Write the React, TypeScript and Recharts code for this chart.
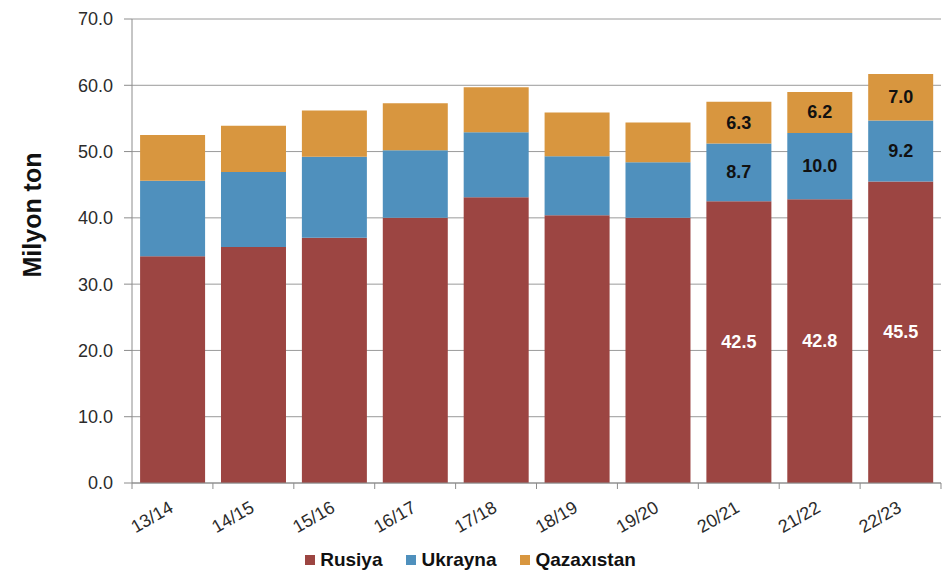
import React from "react";
import { BarChart, Bar, XAxis, YAxis, CartesianGrid, Legend, LabelList, Label } from "recharts";

const seasons = ["13/14", "14/15", "15/16", "16/17", "17/18", "18/19", "19/20", "20/21", "21/22", "22/23"];
const rusiya = [34.2, 35.6, 37.0, 40.0, 43.1, 40.4, 40.0, 42.5, 42.8, 45.5];
const ukrayna = [11.4, 11.3, 12.2, 10.2, 9.8, 8.9, 8.4, 8.7, 10.0, 9.2];
const qazaxistan = [6.9, 7.0, 7.0, 7.1, 6.8, 6.6, 6.0, 6.3, 6.2, 7.0];
// only the last three seasons carry value labels
const labelledSeasons = ["20/21", "21/22", "22/23"];
const yTicks = [0, 10, 20, 30, 40, 50, 60, 70];
const legendOrder = ["Rusiya", "Ukrayna", "Qazaxıstan"];

const data = seasons.map((s, i) => ({
  season: s,
  rusiya: rusiya[i],
  ukrayna: ukrayna[i],
  qazaxistan: qazaxistan[i],
}));

const FONT = "'Liberation Sans', Arial, sans-serif";
const RED = "#9c4542";
const BLUE = "#4f90bd";
const ORANGE = "#d8963f";
const BAND = (940.7 - 132) / seasons.length;

const makeLabel = (key: string, color: string) => (props: any) => {
  const { x, y, width, height, index } = props;
  if (!labelledSeasons.includes(seasons[index])) return null;
  const v = data[index][key as "rusiya"];
  return (
    <text
      x={x + width / 2}
      y={y + height / 2}
      textAnchor="middle"
      dominantBaseline="central"
      fill={color}
      fontFamily={FONT}
      fontWeight="bold"
      fontSize={18}
    >
      {v.toFixed(1)}
    </text>
  );
};

const XTick = (props: any) => {
  const { x, y, payload, index } = props;
  const left = x - BAND / 2;
  const tx = x + 2;
  const ty = y + 20;
  return (
    <g>
      <line x1={left} x2={left} y1={y - 8} y2={y - 2} stroke="#8c8c8c" />
      {index === seasons.length - 1 && (
        <line x1={x + BAND / 2} x2={x + BAND / 2} y1={y - 8} y2={y - 2} stroke="#8c8c8c" />
      )}
      <text
        x={tx}
        y={ty}
        transform={`rotate(-30, ${tx}, ${ty})`}
        textAnchor="end"
        fill="#2b2b2b"
        fontFamily={FONT}
        fontSize={18}
      >
        {payload.value}
      </text>
    </g>
  );
};

const LegendContent = (props: any) => {
  const items = [...(props.payload || [])].sort(
    (a: any, b: any) => legendOrder.indexOf(a.value) - legendOrder.indexOf(b.value)
  );
  return (
    <div style={{ display: "flex", justifyContent: "center", fontFamily: FONT }}>
      {items.map((p: any) => (
        <div key={p.value} style={{ display: "flex", alignItems: "center", margin: "0 12px" }}>
          <span style={{ width: 10, height: 10, background: p.color, marginRight: 5, display: "inline-block" }} />
          <span style={{ fontSize: 19, fontWeight: "bold", color: "#111" }}>{p.value}</span>
        </div>
      ))}
    </div>
  );
};

export default function App() {
  return (
    <div style={{ position: "absolute", left: 0, top: 0, background: "#fff" }}>
      <BarChart
        width={948}
        height={573}
        data={data}
        margin={{ top: 19, right: 7, left: 0, bottom: 0 }}
        barCategoryGap="10%"
      >
        <CartesianGrid vertical={false} stroke="#9a9a9a" />
        <XAxis
          dataKey="season"
          height={66}
          tickLine={false}
          axisLine={{ stroke: "#8c8c8c" }}
          tick={<XTick />}
          interval={0}
        />
        <YAxis
          width={132}
          domain={[0, 70]}
          ticks={yTicks}
          tickFormatter={(v: number) => v.toFixed(1)}
          tickSize={8}
          tickMargin={11}
          tickLine={{ stroke: "#8c8c8c" }}
          axisLine={{ stroke: "#8c8c8c" }}
          tick={{ fill: "#2b2b2b", fontFamily: FONT, fontSize: 18 }}
        >
          <Label
            value="Milyon ton"
            angle={-90}
            position="center"
            dx={-34}
            dy={-36}
            style={{ fontFamily: FONT, fontWeight: "bold", fontSize: 25, fill: "#111" }}
          />
        </YAxis>
        <Legend height={24} verticalAlign="bottom" content={<LegendContent />} />
        <Bar dataKey="rusiya" name="Rusiya" stackId="a" fill={RED} isAnimationActive={false}>
          <LabelList dataKey="rusiya" content={makeLabel("rusiya", "#ffffff")} />
        </Bar>
        <Bar dataKey="ukrayna" name="Ukrayna" stackId="a" fill={BLUE} isAnimationActive={false}>
          <LabelList dataKey="ukrayna" content={makeLabel("ukrayna", "#111111")} />
        </Bar>
        <Bar dataKey="qazaxistan" name="Qazaxıstan" stackId="a" fill={ORANGE} isAnimationActive={false}>
          <LabelList dataKey="qazaxistan" content={makeLabel("qazaxistan", "#111111")} />
        </Bar>
      </BarChart>
    </div>
  );
}
